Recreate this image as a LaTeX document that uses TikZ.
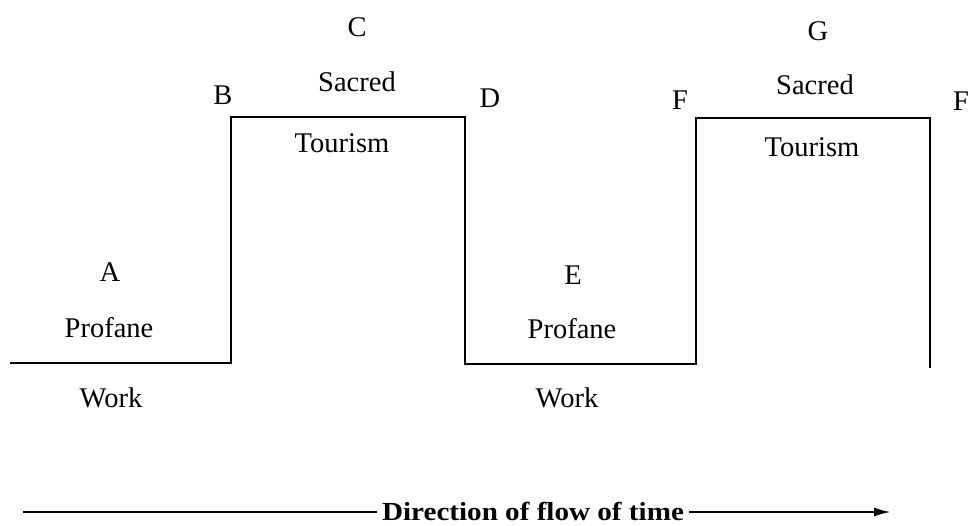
\documentclass[tikz,border=0pt]{standalone}
\usepackage{fontspec}
\setmainfont{Liberation Serif}
\usetikzlibrary{arrows.meta}
\begin{document}
\begin{tikzpicture}[x=1pt,y=-1pt,
  lbl/.style={font=\fontsize{28.5}{30}\selectfont, anchor=base, inner sep=0pt},
  wave/.style={line width=2.2pt, line join=miter},
  timeline/.style={line width=2.2pt},
  timetext/.style={font=\fontsize{26}{28}\selectfont\bfseries, anchor=base, inner sep=0pt, xscale=1.12}]
\useasboundingbox (0,0) rectangle (968,526);
% waveform corners
\coordinate (p0) at (10,363);
\coordinate (p1) at (231,363);
\coordinate (p2) at (231,117);
\coordinate (p3) at (465,117);
\coordinate (p4) at (465,364);
\coordinate (p5) at (696,364);
\coordinate (p6) at (696,118);
\coordinate (p7) at (930,118);
\coordinate (p8) at (930,368);
\draw[wave] (p0) -- (p1) -- (p2) -- (p3) -- (p4) -- (p5) -- (p6) -- (p7) -- (p8);
% labels
\node[lbl] (C) at (357,37) {C};
\node[lbl] (sacred1) at (357,92) {Sacred};
\node[lbl] (B) at (223,105) {B};
\node[lbl] (D) at (490,108) {D};
\node[lbl] (tourism1) at (342,153) {Tourism};
\node[lbl] (G) at (818,41) {G};
\node[lbl] (sacred2) at (815,95) {Sacred};
\node[lbl] (F1) at (680,110) {F};
\node[lbl] (F2) at (961,111) {F};
\node[lbl] (tourism2) at (812,157) {Tourism};
\node[lbl] (A) at (110,282) {A};
\node[lbl] (profane1) at (109,337) {Profane};
\node[lbl] (work1) at (111,407) {Work};
\node[lbl] (E) at (573,284) {E};
\node[lbl] (profane2) at (572,338) {Profane};
\node[lbl] (work2) at (567,407) {Work};
% time arrow
\node[timetext] (dir) at (533,520) {Direction of flow of time};
\coordinate (t0) at (23,512);
\coordinate (t1) at (891,512);
\draw[timeline] (t0) -- ([xshift=-5pt]t0 -| dir.west);
\draw[timeline, -{Latex[length=17pt,width=9pt]}] ([xshift=5pt]t1 -| dir.east) -- (t1);
\end{tikzpicture}
\end{document}
